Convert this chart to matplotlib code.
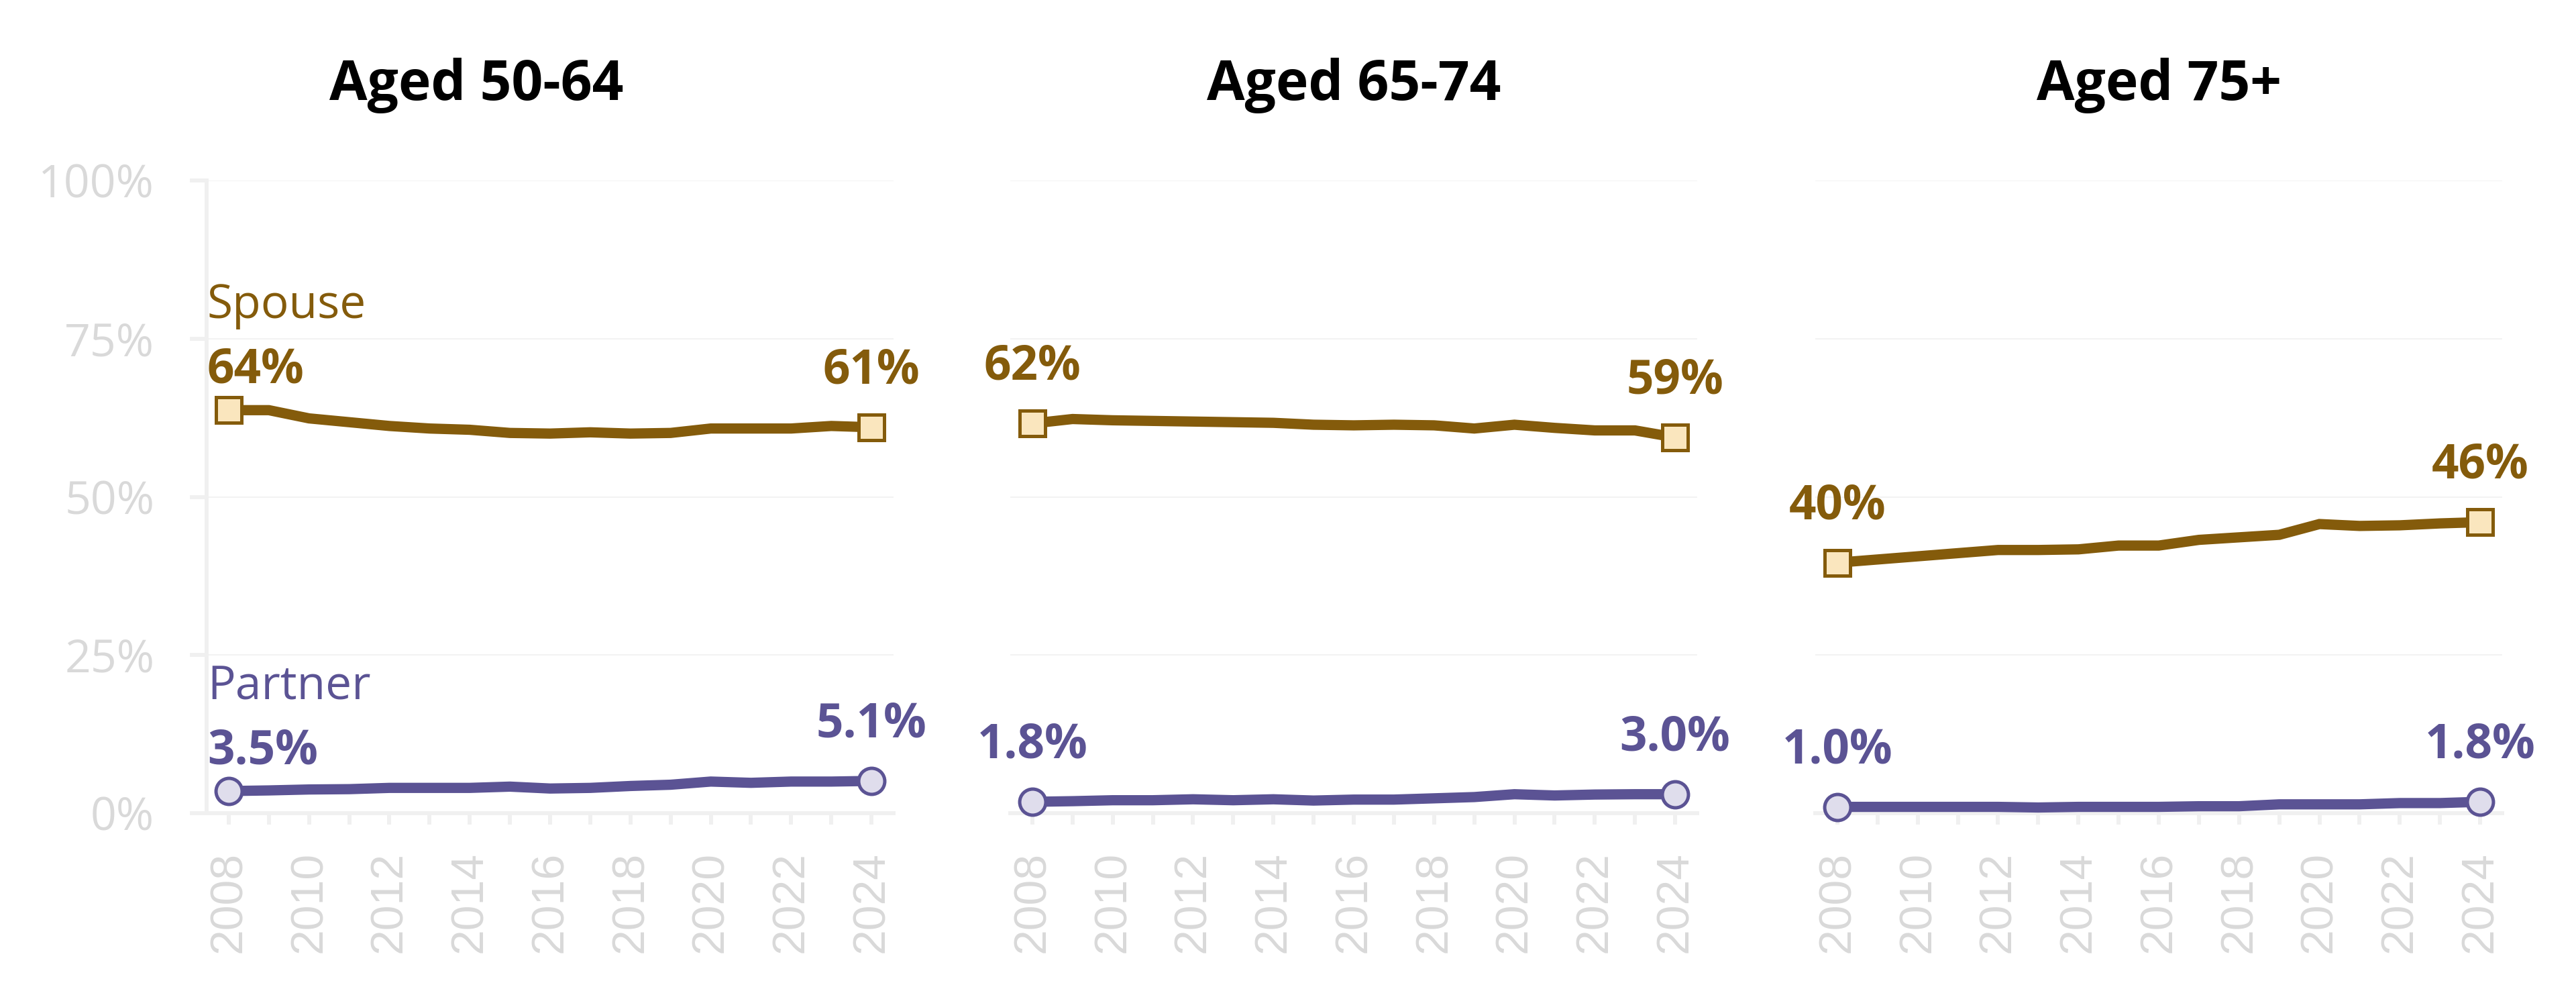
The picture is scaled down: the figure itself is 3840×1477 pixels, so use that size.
import matplotlib
matplotlib.use("Agg")
import matplotlib.pyplot as plt

# ---------------- data ----------------
years = list(range(2008, 2025))
year_labels = [str(y) if y % 2 == 0 else "" for y in years]
panel_titles = ["Aged 50-64", "Aged 65-74", "Aged 75+"]
series_names = ["Spouse", "Partner"]

spouse_50_64 = [63.7, 63.7, 62.4, 61.8, 61.2, 60.8, 60.6, 60.1, 60.0, 60.2, 60.0, 60.1, 60.8, 60.8, 60.8, 61.2, 61.0]
partner_50_64 = [3.5, 3.6, 3.75, 3.8, 4.0, 4.0, 4.0, 4.2, 3.9, 4.0, 4.3, 4.5, 5.0, 4.8, 5.0, 5.0, 5.1]

spouse_65_74 = [61.6, 62.3, 62.1, 62.0, 61.9, 61.8, 61.7, 61.4, 61.3, 61.4, 61.3, 60.8, 61.4, 60.9, 60.5, 60.5, 59.4]
partner_65_74 = [1.8, 1.9, 2.05, 2.05, 2.2, 2.05, 2.2, 2.0, 2.15, 2.15, 2.35, 2.55, 3.0, 2.8, 2.95, 3.0, 3.0]

spouse_75 = [39.6, 40.1, 40.6, 41.1, 41.6, 41.6, 41.7, 42.3, 42.3, 43.2, 43.6, 44.0, 45.7, 45.4, 45.5, 45.8, 46.0]
partner_75 = [1.0, 1.0, 1.0, 1.0, 1.0, 0.9, 1.0, 1.0, 1.0, 1.1, 1.1, 1.4, 1.4, 1.4, 1.6, 1.6, 1.8]

spouse_all = [spouse_50_64, spouse_65_74, spouse_75]
partner_all = [partner_50_64, partner_65_74, partner_75]

y_ticks = [0, 25, 50, 75, 100]
y_tick_labels = ["0%", "25%", "50%", "75%", "100%"]

# ---------------- style ----------------
SP_COL = "#845B0B"
SP_FILL = "#FAE6BE"
PA_COL = "#5B5394"
PA_FILL = "#DFDDEC"
TICK_TXT = "#D9D9D9"
AXIS_COL = "#F0F0F0"
GRID_COL = "#F3F3F3"
FONT = ["Open Sans", "DejaVu Sans"]
YEAR_FONT = ["Liberation Sans", "DejaVu Sans"]

plt.rcParams["font.family"] = FONT

fig = plt.figure(figsize=(38.4, 14.77), dpi=100)
lefts = [308 / 3840, 1506 / 3840, 2706 / 3840]
width = 1024 / 3840
bottom = 1 - 1212 / 1477
height = 943 / 1477
title_x = [0.393, 0.5, 0.5]

for i in range(3):
    ax = fig.add_axes([lefts[i], bottom, width, height])
    ax.set_xlim(2007.45, 2024.55)
    ax.set_ylim(0, 100)
    ax.set_axisbelow(True)

    for side in ["top", "right"]:
        ax.spines[side].set_visible(False)
    ax.spines["bottom"].set_color(AXIS_COL)
    ax.spines["bottom"].set_linewidth(4.3)
    if i == 0:
        ax.spines["left"].set_color(AXIS_COL)
        ax.spines["left"].set_linewidth(4.3)
    else:
        ax.spines["left"].set_visible(False)

    ax.set_yticks(y_ticks)
    ax.yaxis.grid(True, color=GRID_COL, linewidth=1.5)
    if i == 0:
        ax.set_yticklabels(y_tick_labels, color=TICK_TXT, fontsize=49, fontfamily=FONT)
        ax.tick_params(axis="y", length=18, width=4.3, color=AXIS_COL, pad=38)
    else:
        ax.tick_params(axis="y", length=0, labelleft=False)

    ax.set_xticks(years)
    ax.set_xticklabels(year_labels, rotation=90, color=TICK_TXT, fontsize=49, fontfamily=YEAR_FONT)
    ax.tick_params(axis="x", length=12, width=4.3, color=AXIS_COL, pad=29)

    for vals, col, fill, mk, name, fmt in [
        (spouse_all[i], SP_COL, SP_FILL, "s", series_names[0], "{:.0f}%"),
        (partner_all[i], PA_COL, PA_FILL, "o", series_names[1], "{:.1f}%"),
    ]:
        ax.plot(years, vals, color=col, linewidth=11, marker=mk, markersize=28,
                markerfacecolor=fill, markeredgecolor=col, markeredgewidth=3.6,
                markevery=[0, len(vals) - 1], clip_on=False, zorder=3,
                solid_joinstyle="miter")
        # start label
        if i == 0:
            ax.annotate(fmt.format(vals[0]), xy=(years[0], vals[0]), xytext=(-23, 29.5),
                        textcoords="offset points", ha="left", va="baseline",
                        fontsize=51, fontweight="bold", color=col)
            ax.annotate(name, xy=(years[0], vals[0]), xytext=(-23, 98.6),
                        textcoords="offset points", ha="left", va="baseline",
                        fontsize=50, color=col)
        else:
            ax.annotate(fmt.format(vals[0]), xy=(years[0], vals[0]), xytext=(0, 47),
                        textcoords="offset points", ha="center", va="baseline",
                        fontsize=51, fontweight="bold", color=col)
        ax.annotate(fmt.format(vals[-1]), xy=(years[-1], vals[-1]), xytext=(0, 47),
                    textcoords="offset points", ha="center", va="baseline",
                    fontsize=51, fontweight="bold", color=col)

    ax.text(title_x[i], 1 + 120 / 943, panel_titles[i], transform=ax.transAxes,
            ha="center", va="baseline", fontsize=59, fontweight="bold", color="black")

fig.savefig("out.png", dpi=100, facecolor="white")
